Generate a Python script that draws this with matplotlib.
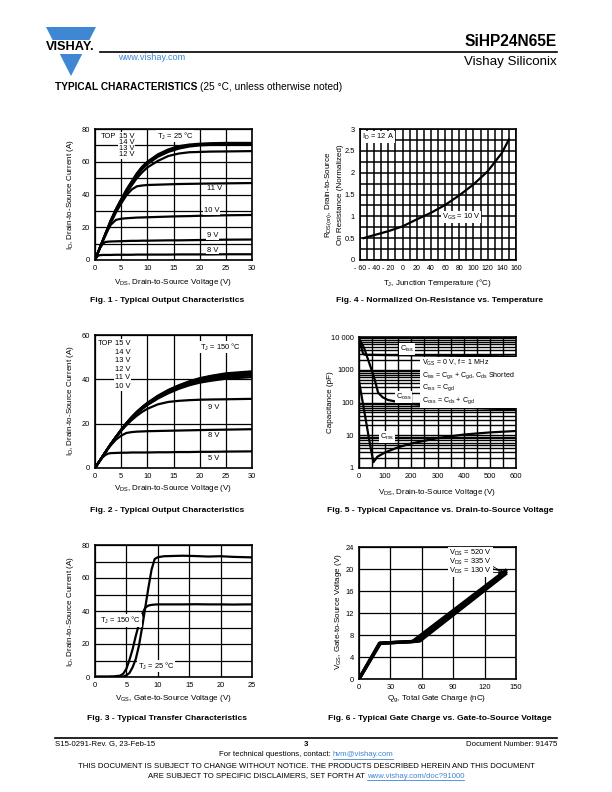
import matplotlib
matplotlib.use('Agg')
import matplotlib.pyplot as plt
import numpy as np
from matplotlib.patches import Polygon
from matplotlib.lines import Line2D
from matplotlib.ticker import LogLocator, NullFormatter, FixedLocator

plt.rcParams['font.family'] = ['Liberation Sans', 'DejaVu Sans']
plt.rcParams['mathtext.default'] = 'regular'

# ---------------- DATA ----------------
# Fig 1: Output characteristics, TJ = 25 C
f1_vds = [0, 0.5, 1, 1.5, 2, 2.5, 3, 4, 5, 6, 7, 8, 9, 10, 12, 14, 16, 18, 20, 22, 25, 30]
f1_15v = [0, 4, 8, 12, 16, 20, 24, 31, 37, 43, 48, 53, 57, 60, 64.5, 67.5, 69.5, 70.5, 71, 71.3, 71.5, 71.5]
f1_14v = [0, 4, 8, 12, 16, 20, 24, 31, 37, 42.5, 47.5, 52.5, 56.5, 59.5, 64, 67, 69, 70, 70.5, 70.8, 71, 71]
f1_13v = [0, 4, 8, 12, 16, 20, 24, 30.5, 36.5, 42, 47, 51.5, 55.5, 58.5, 63, 66, 68, 69.3, 70, 70.3, 70.5, 70.5]
f1_12v = [0, 4, 8, 12, 16, 19.5, 23.5, 30, 35.5, 41, 45.5, 50, 53.5, 56.5, 60.5, 63.5, 65, 65.8, 66, 66.2, 66.3, 66.5]
f1_11v = [0, 4, 8, 12, 15.5, 19, 22.5, 29, 34.5, 39.5, 43, 45, 45.5, 45.8, 46, 46.2, 46.4, 46.5, 46.6, 46.7, 46.8, 47]
f1_10v = [0, 4, 8, 11.5, 15, 18.5, 21.5, 24.5, 25.2, 25.5, 25.7, 25.9, 26, 26.1, 26.3, 26.5, 26.7, 26.8, 27, 27.1, 27.3, 27.5]
f1_9v = [0, 4, 7.5, 10, 11, 11.2, 11.3, 11.4, 11.5, 11.6, 11.7, 11.7, 11.8, 11.8, 11.9, 12, 12, 12.1, 12.2, 12.3, 12.4, 12.5]
f1_8v = [0, 2.5, 3, 3.1, 3.1, 3.1, 3.1, 3.2, 3.2, 3.2, 3.2, 3.3, 3.3, 3.3, 3.3, 3.3, 3.4, 3.4, 3.4, 3.4, 3.5, 3.5]
f1_top_labels = ["15 V", "14 V", "13 V", "12 V"]
f1_curve_labels = ["11 V", "10 V", "9 V", "8 V"]

# Fig 2: Output characteristics, TJ = 150 C
f2_vds = [0, 0.5, 1, 1.5, 2, 2.5, 3, 4, 5, 6, 7, 8, 9, 10, 12, 14, 16, 18, 20, 22, 25, 30]
f2_15v = [0, 1.8, 3.6, 5.4, 7.2, 9, 10.7, 14, 17.3, 20.3, 23, 25.4, 27.5, 29.4, 32.6, 35.2, 37.3, 39.1, 40.5, 41.5, 42.7, 43.6]
f2_14v = [0, 1.8, 3.6, 5.4, 7.2, 9, 10.7, 14, 17.2, 20.2, 22.9, 25.3, 27.4, 29.2, 32.4, 35, 37.1, 38.9, 40.3, 41.3, 42.4, 43.3]
f2_13v = [0, 1.8, 3.6, 5.4, 7.2, 9, 10.7, 14, 17.2, 20.1, 22.8, 25.1, 27.2, 29, 32.2, 34.7, 36.8, 38.6, 40, 41, 42.1, 42.9]
f2_12v = [0, 1.8, 3.6, 5.4, 7.2, 9, 10.7, 14, 17.1, 20, 22.6, 24.9, 27, 28.8, 31.9, 34.4, 36.5, 38.2, 39.6, 40.5, 41.6, 42.4]
f2_11v = [0, 1.8, 3.6, 5.4, 7.2, 9, 10.7, 14, 17.1, 19.9, 22.4, 24.7, 26.8, 28.6, 31.6, 34, 36.1, 37.8, 39.1, 40, 41, 41.8]
f2_10v = [0, 1.8, 3.6, 5.4, 7.2, 9, 10.7, 14, 17, 19.8, 22.3, 24.6, 26.6, 28.4, 31.3, 33.7, 35.7, 37.3, 38.5, 39.3, 40.3, 41]
f2_9v = [0, 1.8, 3.6, 5.4, 7.2, 9, 10.7, 14, 16.8, 19.3, 21.6, 23.6, 25.3, 26.7, 28.7, 29.8, 30.3, 30.6, 30.8, 30.9, 31, 31.2]
f2_8v = [0, 1.8, 3.6, 5.4, 7.1, 8.7, 10.2, 12.8, 14.6, 15.8, 16.2, 16.4, 16.5, 16.6, 16.7, 16.8, 16.9, 17, 17.1, 17.2, 17.3, 17.5]
f2_5v = [0, 1.8, 3.5, 4.9, 5.9, 6.5, 6.7, 6.8, 6.9, 6.9, 7, 7, 7, 7, 7.1, 7.1, 7.2, 7.2, 7.3, 7.3, 7.4, 7.5]
f2_top_labels = ["15 V", "14 V", "13 V", "12 V", "11 V", "10 V"]
f2_curve_labels = ["9 V", "8 V", "5 V"]

# Fig 3: Transfer characteristics
f3_vgs = [0, 1, 2, 3, 4, 4.5, 5, 5.5, 6, 6.5, 7, 7.5, 8, 8.5, 9, 9.5, 10, 11, 12, 14, 16, 18, 20, 22, 24, 25]
f3_25c = [0, 0, 0, 0, 0, 0.3, 1, 2.5, 6, 11, 19, 30, 42, 54, 65, 71.5, 72.6, 73.2, 73.3, 73.5, 73.3, 73, 73.2, 72.8, 72.6, 72.5]
f3_150c = [0.3, 0.3, 0.3, 0.4, 0.8, 2, 5, 10.5, 17, 25, 32, 38, 42, 43.3, 43.7, 43.9, 44, 44, 44, 44, 44.1, 44, 44, 43.9, 44, 44]

# Fig 4: Normalized on-resistance vs temperature
f4_tj = [-55, -40, -20, 0, 20, 40, 60, 80, 100, 120, 140, 150]
f4_r = [0.5, 0.57, 0.66, 0.77, 0.93, 1.08, 1.26, 1.48, 1.73, 2.03, 2.45, 2.76]
f4_xticklabels = ["- 60", "- 40", "- 20", "0", "20", "40", "60", "80", "100", "120", "140", "160"]

# Fig 5: Capacitance vs VDS
f5_ciss_v = [0, 5, 10, 15, 20, 30, 100, 200, 300, 400, 500, 600]
f5_ciss = [9500, 7000, 4500, 3200, 2900, 2850, 2800, 2750, 2700, 2650, 2600, 2550]
f5_coss_v = [0, 10, 20, 35, 50, 60, 73, 90, 110, 150, 200, 300, 400, 500, 600]
f5_coss = [8500, 6500, 4500, 2000, 900, 500, 200, 145, 120, 103, 90, 77, 70, 65, 60]
f5_crss_v = [0, 20, 40, 55, 70, 100, 150, 200, 300, 400, 500, 600]
f5_crss = [450, 55, 6.5, 1.5, 2.2, 3.0, 4.3, 5.6, 8.2, 10.5, 12.2, 13.5]
f5_yticklabels = ["1", "10", "100", "1000", "10 000"]

# Fig 6: Gate charge
f6_qg_130 = [0, 19.5, 51, 140]
f6_vgs_130 = [0, 6.5, 6.8, 19.7]
f6_qg_335 = [0, 20, 55, 140]
f6_vgs_335 = [0, 6.5, 6.85, 19.4]
f6_qg_520 = [0, 20.5, 58, 140]
f6_vgs_520 = [0, 6.5, 6.9, 19.1]
f6_labels = ["V$_{DS}$ = 520 V", "V$_{DS}$ = 335 V", "V$_{DS}$ = 130 V"]

# ---------------- FIGURE ----------------
W, H = 612, 792
fig = plt.figure(figsize=(6.12, 7.92), dpi=100)

def fx(x):
    return x / W

def fy(y):
    return 1 - y / H

def add_ax(x0, y0, x1, y1):
    return fig.add_axes([fx(x0), fy(y1), (x1 - x0) / W, (y1 - y0) / H])

def ftext(x, y, s, **kw):
    kw.setdefault('va', 'center')
    return fig.text(fx(x), fy(y), s, **kw)

WB = dict(facecolor='white', edgecolor='none', pad=0.6)
TS = 5.4      # tick size
LS = 5.8      # label size
CS = 6.1      # caption size
LW = 1.6

def style(ax, xticks, yticks, xminor=None, yminor=None, xlabels=None, ylabels=None):
    ax.set_xticks(xticks)
    ax.set_yticks(yticks)
    if xlabels is not None:
        ax.set_xticklabels(xlabels)
    if ylabels is not None:
        ax.set_yticklabels(ylabels)
    if xminor is not None:
        ax.xaxis.set_minor_locator(FixedLocator(xminor))
    if yminor is not None:
        ax.yaxis.set_minor_locator(FixedLocator(yminor))
    ax.tick_params(which='both', length=0, labelsize=TS, pad=3.5)
    ax.grid(which='both', color='black', lw=0.9)
    ax.set_axisbelow(True)
    for s in ax.spines.values():
        s.set_linewidth(1.2)

# ---- Header ----
blue = '#3f86d3'
tri_l, tri_r, tri_top, apex_x, apex_y = 46, 96, 27, 71, 76
def tri_x(y, side):
    frac = (y - tri_top) / (apex_y - tri_top)
    if side == 'l':
        return tri_l + (apex_x - tri_l) * frac
    return tri_r - (tri_r - apex_x) * frac
up = [(tri_l, tri_top), (tri_r, tri_top), (tri_x(40, 'r'), 40), (tri_x(40, 'l'), 40)]
lo = [(tri_x(54, 'l'), 54), (tri_x(54, 'r'), 54), (apex_x, apex_y)]
for poly in (up, lo):
    fig.patches.append(Polygon([(fx(a), fy(b)) for a, b in poly], closed=True,
                               transform=fig.transFigure, facecolor=blue, edgecolor='none'))
ftext(70.5, 47.5, "VISHAY.", ha='center', size=9.2, weight='bold', color='black')
fig.add_artist(Line2D([fx(100), fx(557)], [fy(52), fy(52)], color='black', lw=1.2))
ftext(557, 42, "SiHP24N65E", ha='right', size=11.2, weight='bold')
ftext(557, 62, "Vishay Siliconix", ha='right', size=9.6)
ftext(118, 58, "www.vishay.com", ha='left', size=6.6, color=blue)

renderer = fig.canvas.get_renderer()

def seg_line(x, y, segs, size, align='center'):
    texts = []
    for s, color, weight, underline in segs:
        t = fig.text(0, fy(y), s, size=size, color=color, weight=weight, va='center')
        texts.append((t, underline))
    widths = [t.get_window_extent(renderer).width for t, _ in texts]
    gap = size * 100 / 72 * 0.28
    total = sum(widths) + gap * (len(widths) - 1)
    cx = x - total / 2 if align == 'center' else x
    for (t, ul), w in zip(texts, widths):
        t.set_x(fx(cx))
        if ul:
            fig.add_artist(Line2D([fx(cx), fx(cx + w)], [fy(y + size * 0.75), fy(y + size * 0.75)],
                                  color=t.get_color(), lw=0.6))
        cx += w + gap

seg_line(55, 87, [("TYPICAL CHARACTERISTICS", 'black', 'bold', False),
                  ("(25 °C, unless otherwise noted)", 'black', 'normal', False)], 7.3, align='left')

# ---- Fig 1 ----
ax1 = add_ax(95, 129, 252, 260)
ax1.set_xlim(0, 30); ax1.set_ylim(0, 80)
style(ax1, range(0, 31, 5), range(0, 81, 20), yminor=[10, 30, 50, 70])
for yv in (f1_15v, f1_14v, f1_13v, f1_12v, f1_11v, f1_10v, f1_9v, f1_8v):
    ax1.plot(f1_vds, yv, color='black', lw=LW)
ftext(101, 136, "TOP", size=TS, bbox=WB)
for i, s in enumerate(f1_top_labels):
    ftext(119, 136 + i * 6.1, s, size=TS, bbox=WB)
ftext(157, 136, "T$_J$ = 25 °C", size=TS, bbox=WB)
for s, (xx, yy) in zip(f1_curve_labels, [(21.4, 43.4), (20.8, 30), (21.4, 14.8), (21.4, 6.1)]):
    ax1.text(xx, yy, s, size=TS, va='center', bbox=WB)
ftext(71, 195, "I$_D$, Drain-to-Source Current (A)", rotation=90, ha='center', size=LS)
ftext(173, 283, "V$_{DS}$, Drain-to-Source Voltage (V)", ha='center', size=LS)
ftext(167, 300, "Fig. 1 - Typical Output Characteristics", ha='center', size=CS, weight='bold')

# ---- Fig 4 ----
ax4 = add_ax(360, 129, 516, 260)
ax4.set_xlim(-60, 160); ax4.set_ylim(0, 3)
style(ax4, range(-60, 161, 20), [0, 0.5, 1, 1.5, 2, 2.5, 3],
      xminor=list(range(-50, 160, 20)), yminor=[0.25, 0.75, 1.25, 1.75, 2.25, 2.75],
      xlabels=f4_xticklabels, ylabels=["0", "0.5", "1", "1.5", "2", "2.5", "3"])
ax4.tick_params(axis='x', labelsize=5.0)
ax4.grid(which='both', color='black', lw=1.1)
ax4.plot(f4_tj, f4_r, color='black', lw=LW)
ax4.text(-57, 2.82, "I$_D$ = 12 A", size=TS, va='center', bbox=WB)
ax4.text(55, 0.98, "V$_{GS}$ = 10 V", size=TS, va='center', bbox=WB)
ftext(329, 195, "R$_{DS(on)}$, Drain-to-Source", rotation=90, ha='center', size=LS)
ftext(340, 195, "On Resistance (Normalized)", rotation=90, ha='center', size=LS)
ftext(437, 283, "T$_J$, Junction Temperature (°C)", ha='center', size=LS)
ftext(440, 300, "Fig. 4 - Normalized On-Resistance vs. Temperature", ha='center', size=CS, weight='bold')

# ---- Fig 2 ----
ax2 = add_ax(95, 335, 252, 468)
ax2.set_xlim(0, 30); ax2.set_ylim(0, 60)
style(ax2, range(0, 31, 5), [0, 20, 40, 60])
for yv in (f2_15v, f2_14v, f2_13v, f2_12v, f2_11v, f2_10v, f2_9v, f2_8v, f2_5v):
    ax2.plot(f2_vds, yv, color='black', lw=LW)
ftext(98, 343.7, "TOP", size=TS, bbox=WB)
for i, s in enumerate(f2_top_labels):
    ftext(115, 343.7 + i * 8.5, s, size=TS, bbox=WB)
ftext(200, 347, "T$_J$ = 150 °C", size=TS, bbox=WB)
for s, (xx, yy) in zip(f2_curve_labels, [(21.5, 27.3), (21.5, 14.5), (21.5, 4.2)]):
    ax2.text(xx, yy, s, size=TS, va='center', bbox=WB)
ftext(71, 401, "I$_D$, Drain-to-Source Current (A)", rotation=90, ha='center', size=LS)
ftext(173, 489, "V$_{DS}$, Drain-to-Source Voltage (V)", ha='center', size=LS)
ftext(167, 510, "Fig. 2 - Typical Output Characteristics", ha='center', size=CS, weight='bold')

# ---- Fig 5 ----
ax5 = add_ax(359, 337, 516, 468)
ax5.set_yscale('log')
ax5.set_xlim(0, 600); ax5.set_ylim(1, 10000)
style(ax5, range(0, 601, 100), [1, 10, 100, 1000, 10000], xminor=list(range(50, 600, 100)),
      ylabels=f5_yticklabels)
ax5.yaxis.set_minor_locator(LogLocator(base=10, subs=np.arange(2, 10)))
ax5.yaxis.set_minor_formatter(NullFormatter())
ax5.tick_params(which='both', length=0)
ax5.grid(which='both', color='black', lw=1.0)
ax5.plot(f5_ciss_v, f5_ciss, color='black', lw=LW)
ax5.plot(f5_coss_v, f5_coss, color='black', lw=LW)
ax5.plot(f5_crss_v, f5_crss, color='black', lw=LW)
ax5.text(157, 4300, "C$_{iss}$", size=TS, va='center', bbox=WB)
ax5.text(141, 147, "C$_{oss}$", size=TS, va='center', bbox=WB)
ax5.text(80, 8.9, "C$_{rss}$", size=TS, va='center', bbox=WB)
leg = ("V$_{GS}$ = 0 V, f = 1 MHz\nC$_{iss}$ = C$_{gs}$ + C$_{gd}$, C$_{ds}$ Shorted\n"
       "C$_{rss}$ = C$_{gd}$\nC$_{oss}$ = C$_{ds}$ + C$_{gd}$")
ftext(422, 382, leg, size=5.1, ha='left', linespacing=1.25,
      bbox=dict(facecolor='white', edgecolor='none', pad=1.5))
ftext(331, 402, "Capacitance (pF)", rotation=90, ha='center', size=LS)
ftext(437, 492, "V$_{DS}$, Drain-to-Source Voltage (V)", ha='center', size=LS)
ftext(440, 510, "Fig. 5 - Typical Capacitance vs. Drain-to-Source Voltage", ha='center', size=CS, weight='bold')

# ---- Fig 3 ----
ax3 = add_ax(95, 545, 252, 677)
ax3.set_xlim(0, 25); ax3.set_ylim(0, 80)
style(ax3, range(0, 26, 5), range(0, 81, 20), yminor=[10, 30, 50, 70])
ax3.plot(f3_vgs, f3_25c, color='black', lw=LW)
ax3.plot(f3_vgs, f3_150c, color='black', lw=LW)
ax3.text(0.8, 34.5, "T$_J$ = 150 °C", size=TS, va='center', bbox=WB)
ax3.text(6.8, 6.7, "T$_J$ = 25 °C", size=TS, va='center', bbox=WB)
ftext(71, 612, "I$_D$, Drain-to-Source Current (A)", rotation=90, ha='center', size=LS)
ftext(173, 698, "V$_{GS}$, Gate-to-Source Voltage (V)", ha='center', size=LS)
ftext(167, 719, "Fig. 3 - Typical Transfer Characteristics", ha='center', size=CS, weight='bold')

# ---- Fig 6 ----
ax6 = add_ax(359, 547, 516, 679)
ax6.set_xlim(0, 150); ax6.set_ylim(0, 24)
style(ax6, range(0, 151, 30), range(0, 25, 4))
ax6.plot(f6_qg_130, f6_vgs_130, color='black', lw=2.4)
ax6.plot(f6_qg_335, f6_vgs_335, color='black', lw=2.4)
ax6.plot(f6_qg_520, f6_vgs_520, color='black', lw=2.4)
targets = [(140, 19.1), (139, 19.4), (137, 19.3)]
for i, (s, xy) in enumerate(zip(f6_labels, targets)):
    ax6.annotate(s, xy=xy, xytext=(449, H - (553 + 9 * i)), textcoords='figure pixels',
                 size=TS, va='center', ha='left', bbox=WB,
                 arrowprops=dict(arrowstyle='-|>,head_length=0.35,head_width=0.15',
                                 color='black', lw=0.6, shrinkA=0, shrinkB=0))
ftext(338, 612, "V$_{GS}$, Gate-to-Source Voltage (V)", rotation=90, ha='center', size=LS)
ftext(437, 699, "Q$_g$, Total Gate Charge (nC)", ha='center', size=LS)
ftext(440, 719, "Fig. 6 - Typical Gate Charge vs. Gate-to-Source Voltage", ha='center', size=CS, weight='bold')

# ---- Footer ----
fig.add_artist(Line2D([fx(55), fx(557)], [fy(738), fy(738)], color='black', lw=1.2))
ftext(55, 744, "S15-0291-Rev. G, 23-Feb-15", ha='left', size=5.6)
ftext(306, 744, "3", ha='center', size=5.6, weight='bold')
ftext(557, 744, "Document Number: 91475", ha='right', size=5.6)
seg_line(306, 755, [("For technical questions, contact:", 'black', 'normal', False),
                    ("hvm@vishay.com", blue, 'normal', True)], 5.6)
ftext(306, 767, "THIS DOCUMENT IS SUBJECT TO CHANGE WITHOUT NOTICE. THE PRODUCTS DESCRIBED HEREIN AND THIS DOCUMENT",
      ha='center', size=5.6)
seg_line(306, 776, [("ARE SUBJECT TO SPECIFIC DISCLAIMERS, SET FORTH AT", 'black', 'normal', False),
                    ("www.vishay.com/doc?91000", blue, 'normal', True)], 5.6)

fig.savefig('out.png', dpi=100)
